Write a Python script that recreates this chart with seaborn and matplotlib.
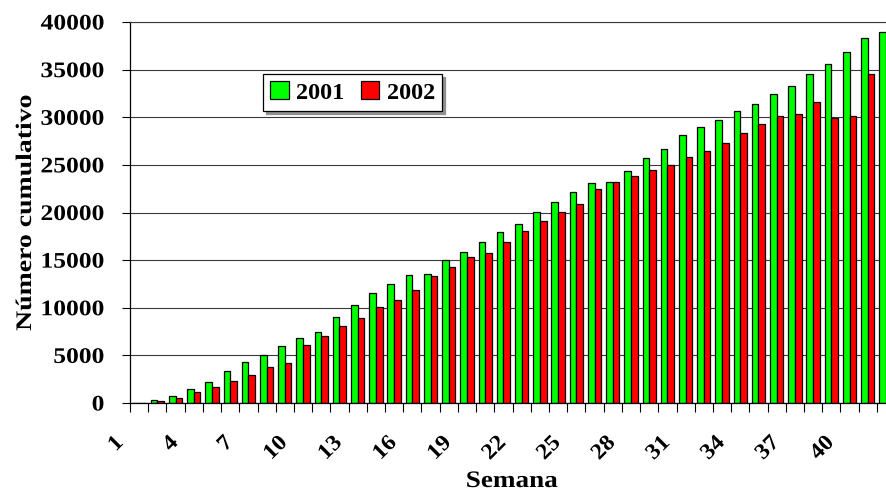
import numpy as np
import pandas as pd
import matplotlib.pyplot as plt
import matplotlib.transforms as mtransforms
import matplotlib.patheffects as pe
import seaborn as sns

# datos (número cumulativo por semana)
semanas = list(range(1, 43))
valores_2001 = [0, 300, 730, 1490, 2220, 3330, 4300, 5000, 6010, 6800,
                7470, 8990, 10240, 11500, 12530, 13440, 13540, 14980, 15890, 16910,
                18000, 18840, 20100, 21050, 22100, 23050, 23160, 24400, 25680, 26660,
                28090, 29000, 29730, 30700, 31370, 32480, 33250, 34580, 35620, 36810,
                38280, 38970]
valores_2002 = [0, 250, 560, 1110, 1670, 2330, 2920, 3750, 4250, 6110,
                7010, 8090, 8890, 10030, 10800, 11900, 13370, 14280, 15370, 15790,
                16910, 18100, 19120, 20100, 20840, 22420, 23160, 23800, 24460, 24950,
                25790, 26480, 27290, 28370, 29270, 30080, 30360, 31580, 29970, 30150,
                34580, np.nan]
etiquetas_x = semanas[::3]
ticks_y = list(range(0, 40001, 5000))

data = pd.DataFrame({
    "semana": semanas * 2,
    "valor": valores_2001 + valores_2002,
    "año": ["2001"] * len(semanas) + ["2002"] * len(semanas),
})


# el texto original (Times de Excel) es más ancho: se estira en horizontal
class Estira(pe.AbstractPathEffect):
    def __init__(self, sx, ancla="center"):
        super().__init__()
        self.sx = sx
        self.ancla = ancla

    def draw_path(self, renderer, gc, tpath, affine, rgbFace=None):
        ext = tpath.get_extents()
        if self.ancla == "right":
            x0 = ext.x1
        elif self.ancla == "left":
            x0 = 0
        else:
            x0 = (ext.x0 + ext.x1) / 2
        t = mtransforms.Affine2D().translate(-x0, 0).scale(self.sx, 1).translate(x0, 0)
        renderer.draw_path(gc, tpath, t + affine, rgbFace)


sns.set_theme(style="white")
plt.rcParams["font.family"] = ["Liberation Serif", "DejaVu Serif"]
plt.rcParams["font.weight"] = "bold"
plt.rcParams["text.color"] = "black"
plt.rcParams["axes.labelcolor"] = "black"
plt.rcParams["xtick.color"] = "black"
plt.rcParams["ytick.color"] = "black"

fig = plt.figure(figsize=(8.86, 4.95), dpi=100)
ax = fig.add_axes([130 / 886, 92 / 495, 756 / 886, 381 / 495])

sns.barplot(data=data, x="semana", y="valor", hue="año",
            palette={"2001": "#00ff00", "2002": "#ff0000"},
            width=0.73, saturation=1, edgecolor="black", linewidth=0.9,
            errorbar=None, ax=ax)

ax.set_xlim(-0.5, 41.0)
ax.set_ylim(0, 40000)
ax.set_axisbelow(True)
ax.yaxis.grid(True, color="#3a3a3a", linewidth=0.8)

ax.spines["right"].set_visible(False)
ax.spines["top"].set_color("#3a3a3a")
ax.spines["top"].set_linewidth(0.8)
for s in ["left", "bottom"]:
    ax.spines[s].set_color("black")
    ax.spines[s].set_linewidth(0.9)

# eje y
ax.set_yticks(ticks_y)
ax.set_yticklabels([str(v) for v in ticks_y])
ax.tick_params(axis="y", which="major", direction="out", length=5.5, width=0.8,
               color="black", pad=13, labelsize=16, labelcolor="black", left=True)
for lab in ax.get_yticklabels():
    lab.set_path_effects([Estira(1.15, "right")])

# eje x: marcas entre categorías, etiquetas cada 3 semanas
ax.set_xticks(range(0, 42, 3))
ax.set_xticklabels([str(v) for v in etiquetas_x])
ax.set_xticks(np.arange(-0.5, 41.0, 1), minor=True)
ax.tick_params(axis="x", which="major", length=0, pad=0, labelsize=16, labelcolor="black")
ax.tick_params(axis="x", which="minor", direction="out", length=6.5, width=0.8,
               color="black", bottom=True)

desplaza = mtransforms.ScaledTranslation(-18.5 / 100, -37 / 100, fig.dpi_scale_trans)
for lab in ax.get_xticklabels():
    lab.set_rotation(45)
    lab.set_rotation_mode("anchor")
    lab.set_ha("right")
    lab.set_va("center")
    lab.set_transform(lab.get_transform() + desplaza)
    lab.set_path_effects([Estira(1.08, "right")])

ax.set_xlabel("Semana", fontsize=17, fontweight="bold", color="black")
ax.xaxis.set_label_coords((512 - 130) / 756, (403 - 471) / 381)
ax.xaxis.label.set_path_effects([Estira(1.15)])
ax.set_ylabel("Número cumulativo", fontsize=16, fontweight="bold", color="black")
ax.yaxis.set_label_coords((36 - 130) / 756, 0.5)
ax.yaxis.label.set_path_effects([Estira(1.25)])

handles, labels = ax.get_legend_handles_labels()
ax.legend(handles, labels, ncol=2, loc="upper left",
          bbox_to_anchor=(263 / 886, (495 - 74) / 495), bbox_transform=fig.transFigure,
          borderaxespad=0, borderpad=0.3, handlelength=0.75, handleheight=0.75,
          handletextpad=0.3, columnspacing=0.7, frameon=True, fancybox=False,
          framealpha=1, edgecolor="black", facecolor="white",
          shadow={"color": "#909090", "alpha": 1},
          prop={"family": "Liberation Serif", "weight": "bold", "size": 17.5})
ax.get_legend().get_frame().set_linewidth(0.9)

plt.savefig("out.png", dpi=100)
